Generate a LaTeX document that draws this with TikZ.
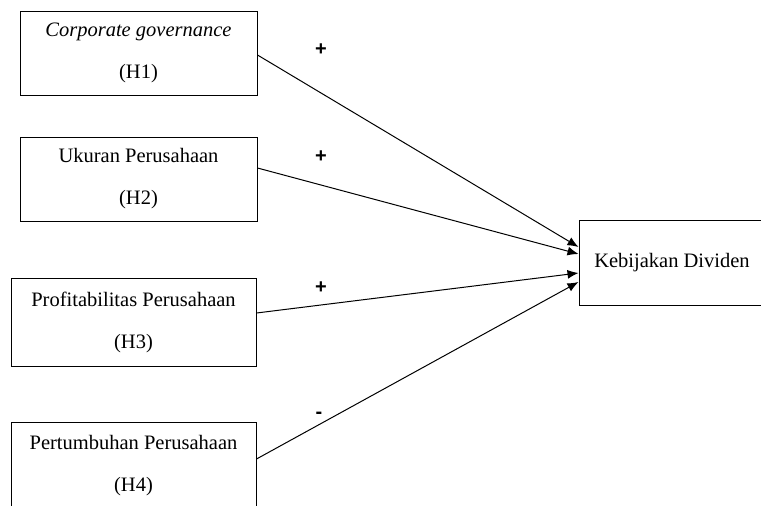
\documentclass[tikz,border=0pt]{standalone}
\usepackage{fontspec}
\setmainfont{Liberation Serif}
\newfontfamily\signfont{Liberation Sans}
\usetikzlibrary{arrows.meta}

\begin{document}
\begin{tikzpicture}[x=1pt,y=-1pt,inner sep=0pt,
    var/.style={draw,line width=1pt,align=center,
        font=\fontsize{20.5}{42}\selectfont},
    sign/.style={font=\signfont\bfseries\fontsize{20}{20}\selectfont},
    link/.style={line width=1pt,-{Latex[length=11pt,width=9pt]}}]
        \clip (0,0) rectangle (761,506);
        % independent variables
        \node [var,minimum width=237,minimum height=84] (H1) at (138.5,53)
            {\textit{Corporate governance}\\(H1)};
        \node [var,minimum width=237,minimum height=84] (H2) at (138.5,179)
            {Ukuran Perusahaan\\(H2)};
        \node [var,minimum width=245,minimum height=88] (H3) at (133.5,322)
            {Profitabilitas Perusahaan\\(H3)};
        \node [var,minimum width=245,minimum height=88] (H4) at (133.5,466)
            {Pertumbuhan Perusahaan\\(H4)};
        % dependent variable
        \node [var,minimum width=186,minimum height=85] (KD) at (672,262.5)
            {Kebijakan Dividen};
        % signs
        \node [sign] (S1) at (321,50) {+};
        \node [sign] (S2) at (321,157) {+};
        \node [sign] (S3) at (321,288) {+};
        \node [sign] (S4) at (319,415) {-};
        % hypotheses
        \draw [link] ([yshift=-2pt]H1.east) -- ([yshift=15.5pt]KD.west);
        \draw [link] ([yshift=11pt]H2.east) -- ([yshift=8.5pt]KD.west);
        \draw [link] ([yshift=9pt]H3.east) -- ([yshift=-10.5pt]KD.west);
        \draw [link] ([yshift=7pt]H4.east) -- ([yshift=-19.5pt]KD.west);
\end{tikzpicture}
\end{document}
